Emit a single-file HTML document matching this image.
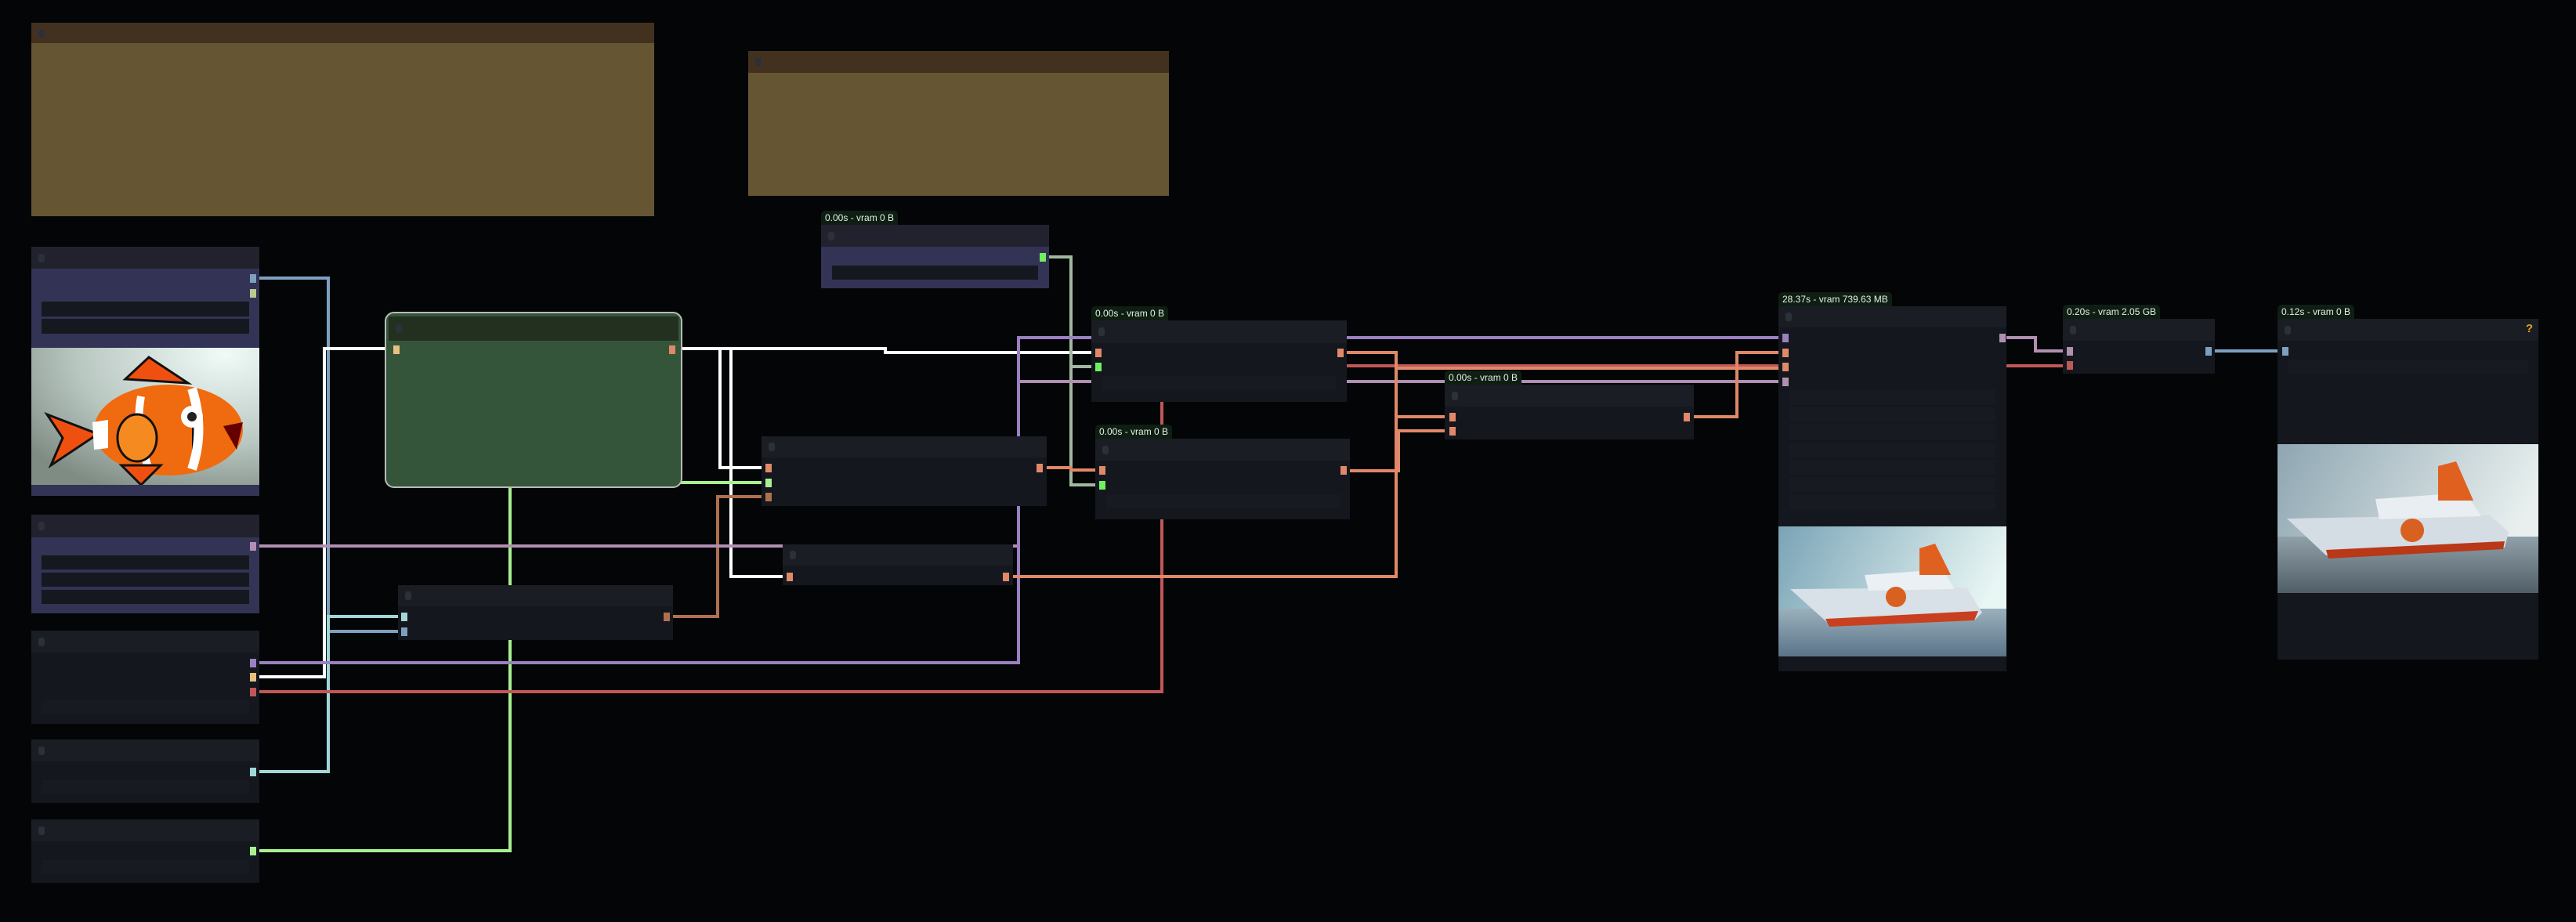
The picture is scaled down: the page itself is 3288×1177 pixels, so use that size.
<!DOCTYPE html>
<html><head><meta charset="utf-8"><style>
*{margin:0;padding:0;box-sizing:border-box}
body{width:3288px;height:1177px;background:#040507;position:relative;overflow:hidden;font-family:"Liberation Sans",sans-serif}
.n{position:absolute;background:#14171d}
.h{position:absolute;left:0;right:0;top:0;background:#1a1d24}
.dot{position:absolute;left:9px;width:8px;height:11px;border-radius:3px;background:#2c3038}
.w{position:absolute;background:#171a20}
.pw{position:absolute;background:#15181e}
.s{position:absolute;width:8px;height:11px}
.b{position:absolute;background:#0f1e12;color:#e6f0e6;font-size:12px;line-height:18px;padding:0 5px;border-radius:5px 5px 0 0;white-space:nowrap}
svg{position:absolute;left:0;top:0}
</style></head><body>
<svg width="3288" height="1177" fill="none" stroke-linejoin="miter">
<g stroke-width="4">
<path d="M329 355H419V806H508" stroke="#7ea0c0"/>
<path d="M329 985H419V787H508" stroke="#a0d8d8"/>
<path d="M329 864H414V445H500" stroke="#fff"/>
<path d="M866 445H1130V450H1393" stroke="#fff"/>
<path d="M866 445H919V597H972" stroke="#fff"/>
<path d="M866 445H933V736H999" stroke="#fff"/>
<path d="M866 616H972" stroke="#a8f090"/>
<path d="M329 1086H651V623" stroke="#a8f090"/>
<path d="M859 787H916V634H972" stroke="#b07050"/>
<path d="M1339 328H1367V468H1393M1367 468V619H1398" stroke="#a0b8a0"/>
<path d="M1336 597H1367V600H1398" stroke="#e08868"/>
<path d="M329 697H1300V487H2279" stroke="#b090b0"/>
<path d="M329 846H1300V431H2279" stroke="#9a80c0"/>
<path d="M329 883H1483V467H2279" stroke="#c05858"/>
<path d="M1719 450H1782V532H1844" stroke="#e08868"/>
<path d="M1293 736H1782V470H2279" stroke="#e08868"/>
<path d="M1723 601H1785V550H1844" stroke="#e08868"/>
<path d="M2162 532H2217V450H2279" stroke="#e08868"/>
<path d="M2561 431H2598V448H2633" stroke="#b090b0"/>
<path d="M2561 467H2633" stroke="#c05858"/>
<path d="M2827 448H2907" stroke="#7ea0c0"/>
</g></svg>

<div class="n" style="left:40px;top:29px;width:795px;height:247px;background:#655533"><div class="h" style="height:26px;background:#433120"><div class="dot" style="top:8px"></div></div></div>
<div class="n" style="left:955px;top:65px;width:537px;height:185px;background:#655533"><div class="h" style="height:28px;background:#433120"><div class="dot" style="top:9px"></div></div></div>

<div class="n" style="left:40px;top:315px;width:291px;height:318px;background:#333355"><div class="h" style="height:28px;background:#22222f"><div class="dot" style="top:9px"></div></div>
<div class="pw" style="left:13px;top:70px;width:265px;height:19px"></div>
<div class="pw" style="left:13px;top:92px;width:265px;height:19px"></div>
<div class="s" style="left:279px;top:35px;background:#7ea0c0"></div>
<div class="s" style="left:279px;top:54px;background:#b8c890"></div>
<svg style="left:0;top:129px" width="291" height="175" viewBox="0 0 291 175">
<defs><radialGradient id="fg" cx="0.85" cy="0.05" r="1.1"><stop offset="0" stop-color="#f0fbf8"/><stop offset="0.6" stop-color="#b8c6c0"/><stop offset="1" stop-color="#7e8c84"/></radialGradient></defs>
<rect width="291" height="175" fill="url(#fg)"/>
<path d="M20 85 L85 110 L25 150 L40 115Z" fill="#f0500f" stroke="#111" stroke-width="3"/>
<path d="M120 40 L150 12 L200 45Z" fill="#f0500f" stroke="#111" stroke-width="3"/>
<ellipse cx="175" cy="105" rx="95" ry="58" fill="#f06a10"/>
<path d="M205 52 Q222 105 205 155" stroke="#fff" stroke-width="12"/>
<path d="M140 62 Q132 105 150 155" stroke="#fff" stroke-width="10"/>
<path d="M78 95 L98 92 L98 128 L80 130Z" fill="#fff"/>
<circle cx="205" cy="88" r="14" fill="#fff"/><circle cx="205" cy="88" r="6" fill="#222"/>
<path d="M245 100 L270 95 L262 130Z" fill="#600"/>
<path d="M115 150 L140 175 L165 150Z" fill="#f0500f" stroke="#111" stroke-width="3"/>
<ellipse cx="135" cy="115" rx="25" ry="30" fill="#f58a20" stroke="#111" stroke-width="3"/>
</svg></div>

<div style="position:absolute;left:491px;top:398px;width:380px;height:225px;border:2px solid #b8bcb8;border-radius:12px;overflow:hidden;background:#35553a"><div style="position:absolute;left:3px;right:3px;top:4px;height:31px;background:#233020"><div class="dot" style="top:10px"></div></div>
<div class="s" style="left:9px;top:41px;background:#e8c080"></div>
<div class="s" style="left:361px;top:41px;background:#e08868"></div></div>

<div class="n" style="left:40px;top:657px;width:291px;height:126px;background:#333355"><div class="h" style="height:29px;background:#22222f"><div class="dot" style="top:9px"></div></div>
<div class="s" style="left:279px;top:35px;background:#b090b0"></div>
<div class="pw" style="left:13px;top:52px;width:265px;height:18px"></div>
<div class="pw" style="left:13px;top:74px;width:265px;height:18px"></div>
<div class="pw" style="left:13px;top:96px;width:265px;height:18px"></div></div>

<div class="n" style="left:40px;top:805px;width:291px;height:119px"><div class="h" style="height:28px"><div class="dot" style="top:9px"></div></div>
<div class="s" style="left:279px;top:36px;background:#9a80c0"></div>
<div class="s" style="left:279px;top:54px;background:#e8c080"></div>
<div class="s" style="left:279px;top:73px;background:#c05858"></div>
<div class="w" style="left:13px;top:89px;width:265px;height:18px"></div></div>
<div class="n" style="left:40px;top:944px;width:291px;height:81px"><div class="h" style="height:28px"><div class="dot" style="top:9px"></div></div>
<div class="s" style="left:279px;top:36px;background:#a0d8d8"></div>
<div class="w" style="left:13px;top:52px;width:265px;height:18px"></div></div>
<div class="n" style="left:40px;top:1046px;width:291px;height:81px"><div class="h" style="height:28px"><div class="dot" style="top:9px"></div></div>
<div class="s" style="left:279px;top:35px;background:#a8f090"></div>
<div class="w" style="left:13px;top:52px;width:265px;height:18px"></div></div>

<div class="n" style="left:508px;top:747px;width:351px;height:70px"><div class="h" style="height:27px"><div class="dot" style="top:8px"></div></div>
<div class="s" style="left:4px;top:35px;background:#a0d8d8"></div>
<div class="s" style="left:4px;top:54px;background:#7ea0c0"></div>
<div class="s" style="left:339px;top:35px;background:#b07050"></div></div>
<div class="n" style="left:972px;top:557px;width:364px;height:89px"><div class="h" style="height:27px"><div class="dot" style="top:8px"></div></div>
<div class="s" style="left:5px;top:35px;background:#e08868"></div>
<div class="s" style="left:5px;top:54px;background:#a8f090"></div>
<div class="s" style="left:5px;top:72px;background:#b07050"></div>
<div class="s" style="left:351px;top:35px;background:#e08868"></div></div>
<div class="n" style="left:999px;top:695px;width:294px;height:52px"><div class="h" style="height:27px"><div class="dot" style="top:8px"></div></div>
<div class="s" style="left:5px;top:36px;background:#e08868"></div>
<div class="s" style="left:281px;top:36px;background:#e08868"></div></div>

<div class="b" style="left:1048px;top:269px">0.00s - vram 0 B</div>
<div class="n" style="left:1048px;top:287px;width:291px;height:81px;background:#333355"><div class="h" style="height:28px;background:#22222f"><div class="dot" style="top:9px"></div></div>
<div class="s" style="left:279px;top:36px;background:#6ef060"></div>
<div class="pw" style="left:14px;top:52px;width:263px;height:18px"></div></div>
<div class="b" style="left:1393px;top:391px">0.00s - vram 0 B</div>
<div class="n" style="left:1393px;top:409px;width:326px;height:104px"><div class="h" style="height:29px"><div class="dot" style="top:9px"></div></div>
<div class="s" style="left:5px;top:36px;background:#e08868"></div>
<div class="s" style="left:5px;top:54px;background:#6ef060"></div>
<div class="s" style="left:314px;top:36px;background:#e08868"></div>
<div class="w" style="left:14px;top:71px;width:298px;height:18px"></div></div>
<div class="b" style="left:1398px;top:542px">0.00s - vram 0 B</div>
<div class="n" style="left:1398px;top:560px;width:325px;height:103px"><div class="h" style="height:28px"><div class="dot" style="top:9px"></div></div>
<div class="s" style="left:5px;top:35px;background:#e08868"></div>
<div class="s" style="left:5px;top:54px;background:#6ef060"></div>
<div class="s" style="left:313px;top:35px;background:#e08868"></div>
<div class="w" style="left:14px;top:71px;width:298px;height:18px"></div></div>
<div class="b" style="left:1844px;top:473px">0.00s - vram 0 B</div>
<div class="n" style="left:1844px;top:491px;width:318px;height:70px"><div class="h" style="height:28px"><div class="dot" style="top:9px"></div></div>
<div class="s" style="left:6px;top:36px;background:#e08868"></div>
<div class="s" style="left:6px;top:54px;background:#e08868"></div>
<div class="s" style="left:305px;top:36px;background:#e08868"></div></div>

<div class="b" style="left:2270px;top:373px">28.37s - vram 739.63 MB</div>
<div class="n" style="left:2270px;top:391px;width:291px;height:466px"><div class="h" style="height:27px"><div class="dot" style="top:8px"></div></div>
<div class="s" style="left:5px;top:35px;background:#9a80c0"></div>
<div class="s" style="left:5px;top:54px;background:#e08868"></div>
<div class="s" style="left:5px;top:72px;background:#e08868"></div>
<div class="s" style="left:5px;top:91px;background:#b090b0"></div>
<div class="s" style="left:282px;top:35px;background:#b090b0"></div>
<div class="w" style="left:14px;top:107px;width:263px;height:19px"></div>
<div class="w" style="left:14px;top:129px;width:263px;height:19px"></div>
<div class="w" style="left:14px;top:151px;width:263px;height:19px"></div>
<div class="w" style="left:14px;top:174px;width:263px;height:19px"></div>
<div class="w" style="left:14px;top:196px;width:263px;height:19px"></div>
<div class="w" style="left:14px;top:218px;width:263px;height:19px"></div>
<div class="w" style="left:14px;top:241px;width:263px;height:19px"></div>
<svg style="left:0;top:281px" width="291" height="166" viewBox="0 0 291 166">
<defs><linearGradient id="sk1" x1="0" y1="0" x2="1" y2="0.3"><stop offset="0" stop-color="#7aa4b6"/><stop offset="1" stop-color="#e8f6f4"/></linearGradient>
<linearGradient id="wa1" x1="0" y1="0" x2="0" y2="1"><stop offset="0" stop-color="#9ab0bc"/><stop offset="1" stop-color="#5a7488"/></linearGradient></defs>
<rect width="291" height="166" fill="url(#sk1)"/><rect y="105" width="291" height="61" fill="url(#wa1)"/>
<path d="M15 80 L240 78 L260 110 L250 120 L65 125Z" fill="#d8e0e8"/>
<path d="M60 118 L255 108 L250 120 L65 128Z" fill="#c84020"/>
<path d="M110 62 L210 55 L225 80 L115 82Z" fill="#eaf0f4"/>
<path d="M180 28 L200 22 L220 62 L180 62Z" fill="#e06020"/>
<circle cx="150" cy="90" r="13" fill="#d86020"/>
</svg></div>

<div class="b" style="left:2633px;top:389px">0.20s - vram 2.05 GB</div>
<div class="n" style="left:2633px;top:407px;width:194px;height:70px"><div class="h" style="height:28px"><div class="dot" style="top:9px"></div></div>
<div class="s" style="left:5px;top:36px;background:#b090b0"></div>
<div class="s" style="left:5px;top:54px;background:#c05858"></div>
<div class="s" style="left:182px;top:36px;background:#7ea0c0"></div></div>

<div class="b" style="left:2907px;top:389px">0.12s - vram 0 B</div>
<div class="n" style="left:2907px;top:407px;width:333px;height:435px"><div class="h" style="height:28px"><div class="dot" style="top:9px"></div><span style="position:absolute;right:7px;top:4px;color:#f0a020;font-size:15px;font-weight:bold">?</span></div>
<div class="s" style="left:6px;top:36px;background:#7ea0c0"></div>
<div class="w" style="left:14px;top:52px;width:306px;height:18px"></div>
<svg style="left:0;top:160px" width="333" height="190" viewBox="0 0 333 190">
<defs><linearGradient id="sk2" x1="0" y1="0" x2="1" y2="0.3"><stop offset="0" stop-color="#8ea6b2"/><stop offset="1" stop-color="#e8efee"/></linearGradient>
<linearGradient id="wa2" x1="0" y1="0" x2="0" y2="1"><stop offset="0" stop-color="#90a0a8"/><stop offset="1" stop-color="#505e68"/></linearGradient></defs>
<rect width="333" height="190" fill="url(#sk2)"/><rect y="118" width="333" height="72" fill="url(#wa2)"/>
<path d="M12 95 L270 90 L295 112 L290 132 L62 142Z" fill="#d4dce4"/>
<path d="M62 135 L290 124 L288 134 L65 146Z" fill="#b83818"/>
<path d="M125 70 L240 62 L260 92 L130 96Z" fill="#e8eef2"/>
<path d="M205 28 L228 22 L250 72 L205 72Z" fill="#e06020"/>
<circle cx="172" cy="110" r="15" fill="#d86020"/>
</svg></div>
</body></html>
